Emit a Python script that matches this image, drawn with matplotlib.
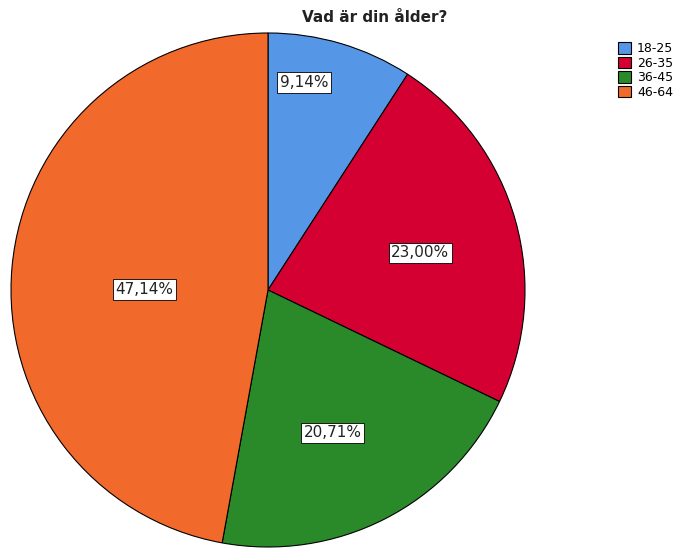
import numpy as np
import matplotlib
matplotlib.use("Agg")
import matplotlib.pyplot as plt

# Data
groups = ["18-25", "26-35", "36-45", "46-64"]
shares = [9.14, 23.00, 20.71, 47.14]
colors = ["#5597E6", "#D50032", "#2A8A2A", "#F26A2B"]
# label placement: radius fraction and angle offset (deg) from slice middle
label_r = [0.82, 0.61, 0.61, 0.48]
label_shift = [6.5, -2.0, -2.7, 5.0]

plt.rcParams['font.family'] = ['DejaVu Sans']

fig = plt.figure(figsize=(6.81, 5.48), dpi=100)
ax = fig.add_axes([11 / 681, 1 / 548, 514 / 681, 514 / 548])

wedges, _ = ax.pie(shares, colors=colors, startangle=90, counterclock=False,
                   radius=1, wedgeprops=dict(edgecolor="black", linewidth=0.8))
for w in wedges:
    w.set_clip_on(False)

# percentage labels in boxes
for w, val, r, d in zip(wedges, shares, label_r, label_shift):
    ang = np.deg2rad((w.theta1 + w.theta2) / 2 + d)
    txt = f"{val:.2f}%".replace(".", ",")
    ax.text(r * np.cos(ang), r * np.sin(ang), txt, ha="center", va="center",
            fontsize=11, color="#222222",
            bbox=dict(boxstyle="square,pad=0.18", facecolor="white",
                      edgecolor="black", linewidth=0.6))

ax.set_xlim(-1, 1)
ax.set_ylim(-1, 1)
ax.set_aspect("equal")
ax.axis("off")

fig.text(375 / 681, 1 - 17 / 548, "Vad är din ålder?", ha="center", va="center",
         fontsize=11, fontweight="bold", color="#222222")

leg = fig.legend(wedges, groups, loc="upper left", bbox_to_anchor=(612 / 681, 1 - 36 / 548),
                 frameon=False, fontsize=9, handlelength=1.0, handleheight=1.0,
                 handletextpad=0.5, labelspacing=0.12, borderpad=0)

plt.savefig("out.png", dpi=100)
